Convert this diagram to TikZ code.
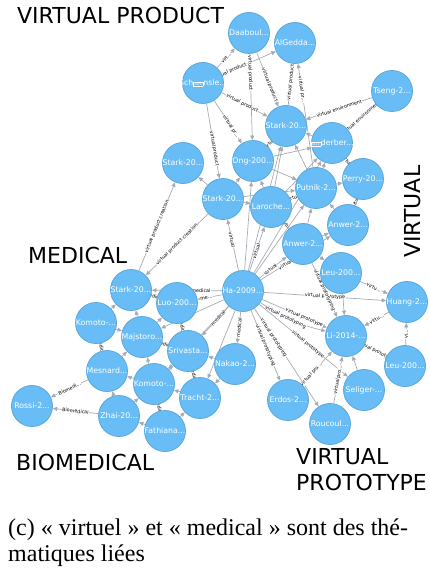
\documentclass[tikz,border=0pt]{standalone}
\usepackage{fontspec}
\setmainfont{Liberation Serif}
\newfontfamily\dvs{DejaVu Sans}
\usetikzlibrary{arrows.meta,backgrounds}
\definecolor{nblue}{HTML}{68BDF6}
\definecolor{nborder}{HTML}{5CA8DB}
\definecolor{egrey}{HTML}{A5ABB6}
\newcommand\tofu[1]{{\fboxsep=0.7pt\fboxrule=0.35pt\fbox{\fontsize{3}{3}\selectfont\kern0.3pt #1\kern0.3pt}}}
\newcommand\nlab[1]{\makebox[0pt]{#1}}
\begin{document}
\begin{tikzpicture}[x=1pt,y=-1pt,
  nd/.style={circle, minimum size=41pt, inner sep=0pt, fill=nblue, draw=nborder, line width=0.8pt, text=white, font=\dvs\fontsize{7.8}{8}\selectfont},
  ed/.style={draw=egrey, line width=0.7pt, -{Triangle[length=4.5pt,width=4pt]}},
  lb/.style={font=\dvs\fontsize{4.8}{5}\selectfont, sloped, fill=white, inner sep=0.3pt, text=black},
  big/.style={font=\dvs\fontsize{22}{22}\selectfont, text=black, inner sep=0pt},
  captxt/.style={font=\fontsize{24}{26}\selectfont, text=black, inner sep=0pt, anchor=base west}]
\useasboundingbox (0,0) rectangle (429,585);

% nodes
\node[nd] (dab) at (249,33) {\nlab{Daaboul...}};
\node[nd] (alg) at (295,43) {\nlab{AlGedda...}};
\node[nd] (sch) at (203,83) {\nlab{Sch\tofu{00F6}nsle...}};
\node[nd] (tse) at (392,91) {\nlab{Tseng-2...}};
\node[nd] (stt) at (286,126) {\nlab{Stark-20...}};
\node[nd] (led) at (332,143) {\nlab{\tofu{0114}derber...}};
\node[nd] (ong) at (253,161) {\nlab{Ong-200...}};
\node[nd] (stl) at (183,163) {\nlab{Stark-20...}};
\node[nd] (per) at (363,179) {\nlab{Perry-20...}};
\node[nd] (put) at (316,188) {\nlab{Putnik-2...}};
\node[nd] (stm) at (223,199) {\nlab{Stark-20...}};
\node[nd] (lar) at (271,207) {\nlab{Laroche...}};
\node[nd] (anr) at (348,225) {\nlab{Anwer-2...}};
\node[nd] (anl) at (303,244) {\nlab{Anwer-2...}};
\node[nd] (leu) at (341,273) {\nlab{Leu-200...}};
\node[nd] (ha)  at (243,291) {\nlab{Ha-2009...}};
\node[nd] (hua) at (407,302) {\nlab{Huang-2...}};
\node[nd] (smd) at (131,290) {\nlab{Stark-20...}};
\node[nd] (luo) at (177,303) {\nlab{Luo-200...}};
\node[nd] (kol) at (96,323) {\nlab{Komoto-...}};
\node[nd] (maj) at (142,337) {\nlab{Majstoro...}};
\node[nd] (li)  at (346,336) {\nlab{Li-2014-...}};
\node[nd] (sri) at (188,351) {\nlab{Srivasta...}};
\node[nd] (nak) at (235,364) {\nlab{Nakao-2...}};
\node[nd] (lel) at (405,366) {\nlab{Leu-200...}};
\node[nd] (mes) at (107,371) {\nlab{Mesnard...}};
\node[nd] (kom) at (154,384) {\nlab{Komoto-...}};
\node[nd] (sel) at (364,390) {\nlab{Seliger-...}};
\node[nd] (tra) at (200,398) {\nlab{Tracht-2...}};
\node[nd] (erd) at (288,400) {\nlab{Erdos-2...}};
\node[nd] (ros) at (32,406) {\nlab{Rossi-2...}};
\node[nd] (zha) at (119,416) {\nlab{Zhai-20...}};
\node[nd] (fat) at (165,431) {\nlab{Fathiana...}};
\node[nd] (rou) at (330,424) {\nlab{Roucoul...}};

% edges
\begin{scope}[on background layer]
% virtual product
\draw[ed] (sch) -- node[lb]{virt...} (dab);
\draw[ed] (sch) -- node[lb,pos=0.15]{virtual product} (alg);
\draw[ed] (sch) -- node[lb,pos=0.45]{virtual product} (stt);
\draw[ed] (sch) -- node[lb,pos=0.6]{virtual pr...} (ong);
\draw[ed] (sch) -- node[lb,pos=0.6]{virtual product} (stm);
\draw[ed] (dab) -- node[lb,pos=0.6]{virtual product} (stt);
\draw[ed] (dab) -- node[lb,pos=0.22]{virtual product} (ong);
\draw[ed] (stt) -- node[lb,pos=0.55]{virtual product} (alg);
\draw[ed] (put) -- node[lb,pos=0.75]{virtual pr...} (alg);
\draw[ed] (tse) -- node[lb]{virtual environment} (stt);
\draw[ed] (tse) -- node[lb]{virtual environments} (led);
\draw[ed] (stm) -- (stl);
\draw[ed] (smd) -- node[lb]{virtual product creation} (stl);
\draw[ed] (stm) -- node[lb]{virtual product creation} (smd);
% central cluster
\draw[ed] (ong) -- node[lb]{virtual} (stt);
\draw[ed] (led) -- (stt);
\draw[ed] (put) -- (stt);
\draw[ed] (lar) -- (stt);
\draw[ed] (ong) -- (led);
\draw[ed] (put) -- (led);
\draw[ed] (per) -- node[lb]{virtual} (led);
\draw[ed] (ong) -- (put);
\draw[ed] (lar) -- (ong);
\draw[ed] (stm) -- (ong);
\draw[ed] (stm) -- (lar);
\draw[ed] (lar) -- node[lb]{virtual} (put);
\draw[ed] (put) -- (per);
\draw[ed] (anr) -- node[lb]{virtual} (per);
\draw[ed] (anr) -- (put);
\draw[ed] (anl) -- (put);
\draw[ed] (anl) -- node[lb]{virtual} (lar);
\draw[ed] (anl) -- (anr);
\draw[ed] (anl) -- (leu);
\draw[ed] (lar) -- (led);
\draw[ed] (stm) -- (put);
% Ha hub
\draw[ed] (ha) -- node[lb,pos=0.6]{virtual} (stm);
\draw[ed] (ha) -- node[lb,pos=0.45]{virtual} (lar);
\draw[ed] (ha) -- (ong);
\draw[ed] (ha) -- (put);
\draw[ed] (ha) -- node[lb,pos=0.4]{virtual} (anl);
\draw[ed] (ha) -- (stt);
\draw[ed] (ha) -- node[lb,pos=0.4]{virtual r...} (anr);
\draw[ed] (ha) -- (led);
% Ha medical
\draw[ed] (ha) -- node[lb,pos=0.3]{medical} (smd);
\draw[ed] (ha) -- node[lb,pos=0.65]{me...} (luo);
\draw[ed] (ha) -- (maj);
\draw[ed] (ha) -- node[lb,pos=0.4]{medical} (sri);
\draw[ed] (ha) -- (kom);
\draw[ed] (ha) -- node[lb]{medical} (nak);
\draw[ed] (ha) -- (tra);
% Ha prototype
\draw[ed] (ha) -- node[lb]{virtual prototype} (hua);
\draw[ed] (ha) -- node[lb,pos=0.65]{virtual prototype} (li);
\draw[ed] (ha) to[bend right=10] node[lb,pos=0.4]{virtual prototyping} (li);
\draw[ed] (ha) -- node[lb,pos=0.55]{virtual prototype} (sel);
\draw[ed] (ha) -- node[lb,pos=0.3]{virtual prototyping} (rou);
\draw[ed] (ha) -- node[lb]{virtual prototyping} (erd);
\draw[ed] (anl) -- node[lb]{virtual prototyping} (li);
\draw[ed] (leu) -- (li);
\draw[ed] (leu) -- node[lb]{virtu...} (hua);
\draw[ed] (hua) -- node[lb]{virtu...} (li);
\draw[ed] (lel) -- node[lb]{vi...} (hua);
\draw[ed] (lel) -- node[lb]{virtual prototype} (li);
\draw[ed] (sel) -- (li);
\draw[ed] (rou) -- node[lb]{virtual pro...} (li);
\draw[ed] (erd) -- node[lb,pos=0.3]{virtual pro...} (li);
% medical cluster
\draw[ed] (luo) -- node[lb]{medical} (smd);
\draw[ed] (maj) -- (smd);
\draw[ed] (kol) -- (smd);
\draw[ed] (sri) -- node[lb]{medical} (luo);
\draw[ed] (maj) -- (luo);
\draw[ed] (sri) -- node[lb]{medical} (maj);
\draw[ed] (kom) -- (maj);
\draw[ed] (kol) -- (maj);
\draw[ed] (mes) -- node[lb]{medical} (kol);
\draw[ed] (mes) -- (maj);
\draw[ed] (kom) -- (mes);
\draw[ed] (zha) -- (mes);
\draw[ed] (kom) -- (sri);
\draw[ed] (tra) -- node[lb]{medical} (sri);
\draw[ed] (nak) -- (sri);
\draw[ed] (tra) -- (kom);
\draw[ed] (fat) -- node[lb]{medical} (kom);
\draw[ed] (zha) -- (kom);
\draw[ed] (fat) -- (tra);
\draw[ed] (fat) -- (zha);
\draw[ed] (nak) -- (tra);
\draw[ed] (mes) -- node[lb]{Biomedi...} (ros);
\draw[ed] (zha) -- node[lb]{Biomedical} (ros);
\end{scope}

% theme labels
\node[big, anchor=base west] (tvp) at (17,24) {VIRTUAL PRODUCT};
\node[big, anchor=base west] (tmed) at (28,263) {MEDICAL};
\node[big, anchor=base west, rotate=90] (tvir) at (420,258) {VIRTUAL};
\node[big, anchor=base west] (tbio) at (16,470) {BIOMEDICAL};
\node[big, anchor=base west] (tvpr1) at (296,464) {VIRTUAL};
\node[big, anchor=base west] (tvpr2) at (296,490) {PROTOTYPE};

% caption
\node[captxt] (cap1) at (8,535) {(c) « virtuel » et « medical » sont des thé-};
\node[captxt] (cap2) at (8,561) {matiques liées};
\end{tikzpicture}
\end{document}
